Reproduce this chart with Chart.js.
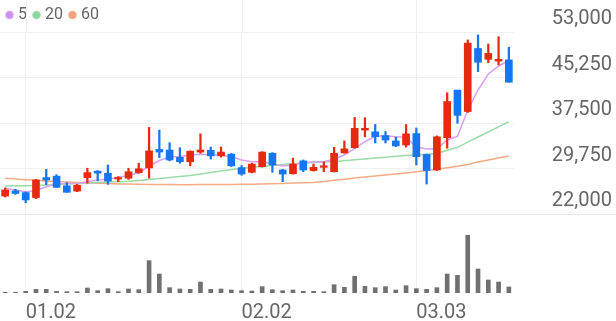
<!DOCTYPE html>
<html>
<head>
<meta charset="utf-8">
<script src="https://cdn.jsdelivr.net/npm/chart.js@4/dist/chart.umd.min.js"></script>
<style>
  html, body { margin: 0; padding: 0; background: #fff; }
  #wrap { width: 616px; height: 321px; }
</style>
</head>
<body>
<div id="wrap"><canvas id="stockChart"></canvas></div>
<script>
	// x 軸刻度 (index -> 日期)
	const tickIdx  = [2, 23, 40];
	const tickText = ['01.02', '02.02', '03.03'];
	const priceMin = 22000, priceMax = 53000, priceStep = 7750;

	const openP  = [25050,25950,25650,24800,28200,28450,26800,25900,28200,29300,28950,27950,28100,29050,29850,33000,32900,31650,30900,32550,
	                32850,31900,32200,29900,29100,30050,32350,29500,28850,31050,29400,29950,29200,32400,33300,36300,36000,35350,34450,33750,
	                35700,32150,29500,35000,43100,39450,50200,48350,48050,48250];
	const highP  = [26450,26200,25750,27900,29600,28700,27350,27050,29800,29400,30350,28350,29800,30650,36750,36300,34150,33300,32750,35650,
	                33400,33400,32300,30250,30650,32600,32450,29600,31500,31200,30500,30900,33350,34450,38450,38400,37250,36050,35100,37250,
	                36650,32200,35300,42650,43100,51650,52500,50950,52200,50400];
	const lowP   = [24900,25350,23900,24600,27000,26500,25650,25800,27250,27650,27050,27500,27900,28950,28100,31600,31050,30650,30200,32350,
	                31350,31700,30100,28600,29000,30000,29100,27500,28800,29200,29300,29200,29150,32350,33200,35150,34100,34100,33450,33400,
	                30350,27100,29400,33200,37450,39300,46250,47750,47400,44450];
	const closeP = [26100,25500,24400,27800,27800,26550,25700,26900,29050,28950,27600,28200,29200,29700,32750,32550,31200,30900,32700,32900,
	                31900,32550,30200,28800,30500,32550,30350,28800,30500,29500,29950,30200,32350,33100,36600,36600,35150,34600,33600,35650,
	                31750,29400,35150,41150,38800,51100,47850,49350,48350,44450];
	const volume = [20000,20000,50000,110000,110000,50000,40000,40000,150000,70000,130000,40000,120000,100000,970000,570000,160000,120000,110000,330000,
	                110000,120000,90000,70000,60000,190000,100000,70000,90000,50000,50000,40000,250000,170000,500000,200000,160000,190000,90000,220000,
	                130000,110000,160000,570000,530000,1730000,720000,390000,330000,180000];
	const volMax = 2370000;

	// 移動平均線
	const ma5  = [26380,26090,25800,25970,26650,27110,27200,27230,27500,27790,27910,28250,28560,29020,30130,31110,31710,31790,32000,32190,
	              32100,32020,31760,31200,30910,30910,30520,30180,30350,30740,30910,30910,31320,32050,33190,34320,35240,35340,35170,35120,
	              33410,33070,33070,34600,35200,39710,43120,45850,47210,48150];
	const ma20 = [26770,26800,26820,26850,26940,27030,27110,27200,27280,27370,27450,27500,27570,27710,27880,28050,28220,28390,28560,28800,
	              29070,29320,29580,29750,29950,30110,30260,30430,30570,30690,30770,30860,30940,31080,31230,31370,31540,31680,31830,31960,
	              32100,32190,32310,32850,33360,34230,35120,35970,36850,37720];
	const ma60 = [28080,27960,27840,27740,27620,27540,27450,27370,27280,27230,27180,27130,27090,27060,27040,27030,27010,26990,26990,27010,
	              27030,27030,27040,27060,27080,27110,27140,27200,27280,27310,27370,27540,27740,27930,28130,28300,28470,28640,28810,28980,
	              29210,29410,29610,29870,30130,30430,30860,31200,31540,31880];

	const upColor = '#e6290f', downColor = '#1776ef';
	const candleColor = closeP.map((c, i) => c >= openP[i] ? upColor : downColor);
	const cats = closeP.map((_, i) => i);

	Chart.defaults.font.family = 'Roboto';
	Chart.defaults.color = '#666';

	// 價格區與成交量區之間的分隔線 (整個寬度) + 日期格線延伸到頂端
	const separator = {
		id: 'separator',
		beforeDatasetsDraw(chart) {
			const c = chart.ctx, y = Math.round(chart.scales.y.bottom) + 0.5;
			const xs = chart.scales.x;
			c.save();
			c.lineWidth = 1;
			c.strokeStyle = '#eeeeee';
			xs.ticks.forEach((t, i) => {
				const px = Math.round(xs.getPixelForTick(i)) + 0.5;
				c.beginPath();
				c.moveTo(px, 0);
				c.lineTo(px, chart.chartArea.top);
				c.stroke();
			});
			c.strokeStyle = '#e9e9e9';
			c.beginPath();
			c.moveTo(0, y);
			c.lineTo(chart.width, y);
			c.stroke();
			c.restore();
		}
	};

	const ctx = document.getElementById('stockChart').getContext('2d');
	new Chart(ctx, {
		type: 'bar',
		data: {
			labels: cats,
			datasets: [
				{ label: 'wick', data: lowP.map((l, i) => [l, highP[i]]), backgroundColor: candleColor,
				  barThickness: 1.6, grouped: false, yAxisID: 'y', order: 1 },
				{ label: 'body', data: openP.map((o, i) => [o, closeP[i]]), backgroundColor: candleColor,
				  barThickness: 7, minBarLength: 1.5, grouped: false, yAxisID: 'y', order: 0 },
				{ type: 'line', label: '5',  data: ma5,  borderColor: '#d99ff3', backgroundColor: '#d08eee',
				  borderWidth: 1.5, pointRadius: 0, yAxisID: 'y', order: 2 },
				{ type: 'line', label: '20', data: ma20, borderColor: '#9adba8', backgroundColor: '#8ed59d',
				  borderWidth: 1.5, pointRadius: 0, yAxisID: 'y', order: 2 },
				{ type: 'line', label: '60', data: ma60, borderColor: '#f8ab86', backgroundColor: '#f6a07a',
				  borderWidth: 1.5, pointRadius: 0, yAxisID: 'y', order: 2 },
				{ label: 'vol', data: volume, backgroundColor: '#707070',
				  barThickness: 4, grouped: false, yAxisID: 'yv', order: 0 }
			]
		},
		options: {
			responsive: true,
			maintainAspectRatio: false,
			animation: false,
			layout: { padding: { top: -2, right: 4, left: 0, bottom: 0 } },
			plugins: {
				tooltip: { enabled: false },
				legend: {
					position: 'top',
					align: 'start',
					maxHeight: 34,
					labels: {
						usePointStyle: true,
						pointStyle: 'circle',
						boxWidth: 1,
						boxHeight: 5,
						padding: 9,
						color: '#666',
						font: { size: 16 },
						filter: item => ['5', '20', '60'].includes(item.text)
					}
				}
			},
			scales: {
				x: {
					type: 'category',
					afterBuildTicks: s => { s.ticks = tickIdx.map(v => ({ value: v })); },
					afterFit: s => { s.height = 28; s.paddingLeft = 0; s.paddingRight = 0; },
					grid: { color: '#eeeeee', offset: false, drawTicks: false },
					border: { display: false },
					ticks: {
						align: 'start',
						autoSkip: false,
						maxRotation: 0,
						padding: 8,
						color: '#666',
						font: { size: 20 },
						callback: (v, i) => tickText[i]
					}
				},
				y: {
					position: 'right',
					stack: 'main',
					stackWeight: 182,
					min: priceMin,
					max: priceMax,
					afterFit: s => { s.width = 98; s.paddingTop = 0; s.paddingBottom = 0; },
					grid: { color: '#f0f0f0', drawTicks: false },
					border: { display: false },
					ticks: {
						stepSize: priceStep,
						crossAlign: 'far',
						padding: 38,
						labelOffset: -13,
						color: '#666',
						font: { size: 20 },
						callback: v => v.toLocaleString('en-US')
					}
				},
				yv: {
					position: 'right',
					stack: 'main',
					stackWeight: 79,
					min: 0,
					max: volMax,
					afterFit: s => { s.paddingTop = 0; s.paddingBottom = 0; },
					grid: { display: false },
					border: { display: false },
					ticks: { display: false }
				}
			}
		},
		plugins: [separator]
	});
</script>
</body>
</html>
